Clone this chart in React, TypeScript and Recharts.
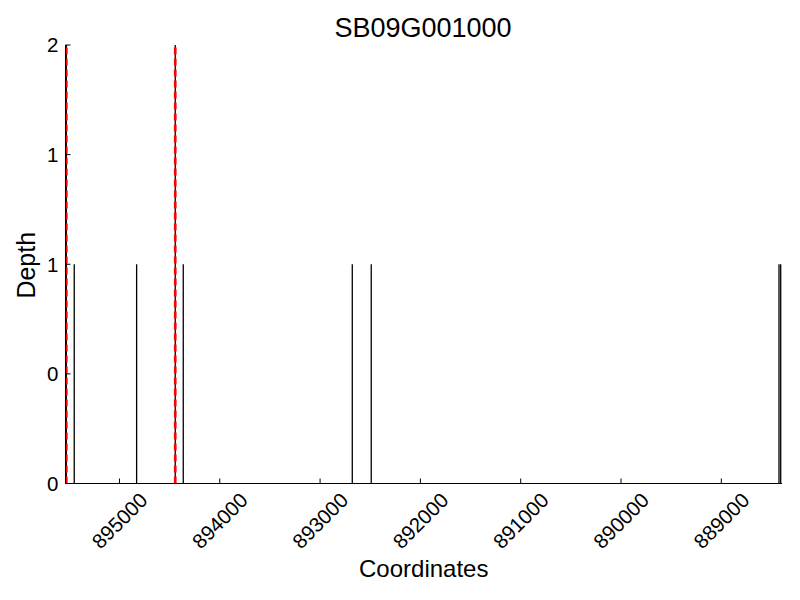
import React from 'react';
import { ComposedChart, XAxis, YAxis, ReferenceLine } from 'recharts';

const title = 'SB09G001000';
const positions = [895530, 895451, 894829, 894444, 894364, 892679, 892490, 888425, 888408];
const depths = [2, 1, 1, 2, 1, 1, 1, 1, 1];
const markers = [895530, 894444];
const markerDepth = 2;
const xTicks = [895000, 894000, 893000, 892000, 891000, 890000, 889000];
const yTicks = [0, 0.5, 1, 1.5, 2];
const xDomain = [888395, 895538];

const FONT = '"Liberation Sans", Arial, sans-serif';

const XTick = (props: any) => {
  const { x, y, payload } = props;
  return (
    <g>
      <line x1={x} x2={x} y1={y} y2={y - 5} stroke="#000" strokeWidth={1} />
      <text
        transform={`translate(${x},${y + 37}) rotate(-45)`}
        textAnchor="middle"
        dy="0.36em"
        fontSize={20.5}
        fontFamily={FONT}
        fill="#000"
      >
        {payload.value}
      </text>
    </g>
  );
};

const YTick = (props: any) => {
  const { x, y, payload } = props;
  return (
    <g>
      <line x1={x} x2={x + 5} y1={y} y2={y} stroke="#000" strokeWidth={1} />
      <text x={x - 7} y={y} dy="0.36em" textAnchor="end" fontSize={20.5} fontFamily={FONT} fill="#000">
        {Math.floor(payload.value)}
      </text>
    </g>
  );
};

export default function App() {
  const data = positions.map((p, i) => ({ pos: p, depth: depths[i] }));
  return (
    <div style={{ position: 'absolute', left: 0, top: 0, width: 800, height: 600, background: '#fff' }}>
      <ComposedChart
        width={800}
        height={600}
        data={data}
        margin={{ top: 45, right: 18, bottom: 0, left: 0 }}
      >
        <XAxis
          dataKey="pos"
          type="number"
          domain={xDomain}
          reversed
          ticks={xTicks}
          allowDataOverflow
          height={116.5}
          tickSize={0}
          tickMargin={0}
          tickLine={false}
          axisLine={{ stroke: '#000', strokeWidth: 1 }}
          tick={<XTick />}
          interval={0}
          label={(p: any) => {
            const vb = p.viewBox;
            return (
              <text
                x={vb.x + vb.width / 2}
                y={577}
                textAnchor="middle"
                fontSize={24}
                fontFamily={FONT}
                fill="#000"
              >
                Coordinates
              </text>
            );
          }}
        />
        <YAxis
          type="number"
          domain={[0, 2]}
          ticks={yTicks}
          allowDataOverflow
          width={65.5}
          tickSize={0}
          tickMargin={0}
          tickLine={false}
          axisLine={{ stroke: '#000', strokeWidth: 1 }}
          tick={<YTick />}
          interval={0}
          label={(p: any) => {
            const vb = p.viewBox;
            const cy = vb.y + vb.height / 2;
            return (
              <text
                transform={`translate(35,${cy + 1}) rotate(-90)`}
                textAnchor="middle"
                fontSize={25}
                fontFamily={FONT}
                fill="#000"
              >
                Depth
              </text>
            );
          }}
        />
        {positions.map((p, i) => (
          <ReferenceLine
            key={'b' + i}
            segment={[{ x: p, y: 0 }, { x: p, y: depths[i] }]}
            stroke="#000"
            strokeWidth={1.3}
            ifOverflow="visible"
          />
        ))}
        {markers.map((m, i) => (
          <ReferenceLine
            key={'r' + i}
            segment={[{ x: m, y: 0 }, { x: m, y: markerDepth }]}
            stroke="#ff0000"
            strokeWidth={2.7}
            strokeDasharray="7 4"
            ifOverflow="visible"
          />
        ))}
      </ComposedChart>
      <svg
        width={800}
        height={60}
        style={{ position: 'absolute', left: 0, top: 0, pointerEvents: 'none' }}
      >
        <text x={423} y={37} textAnchor="middle" fontSize={27} fontFamily={FONT} fill="#000">
          {title}
        </text>
      </svg>
    </div>
  );
}
